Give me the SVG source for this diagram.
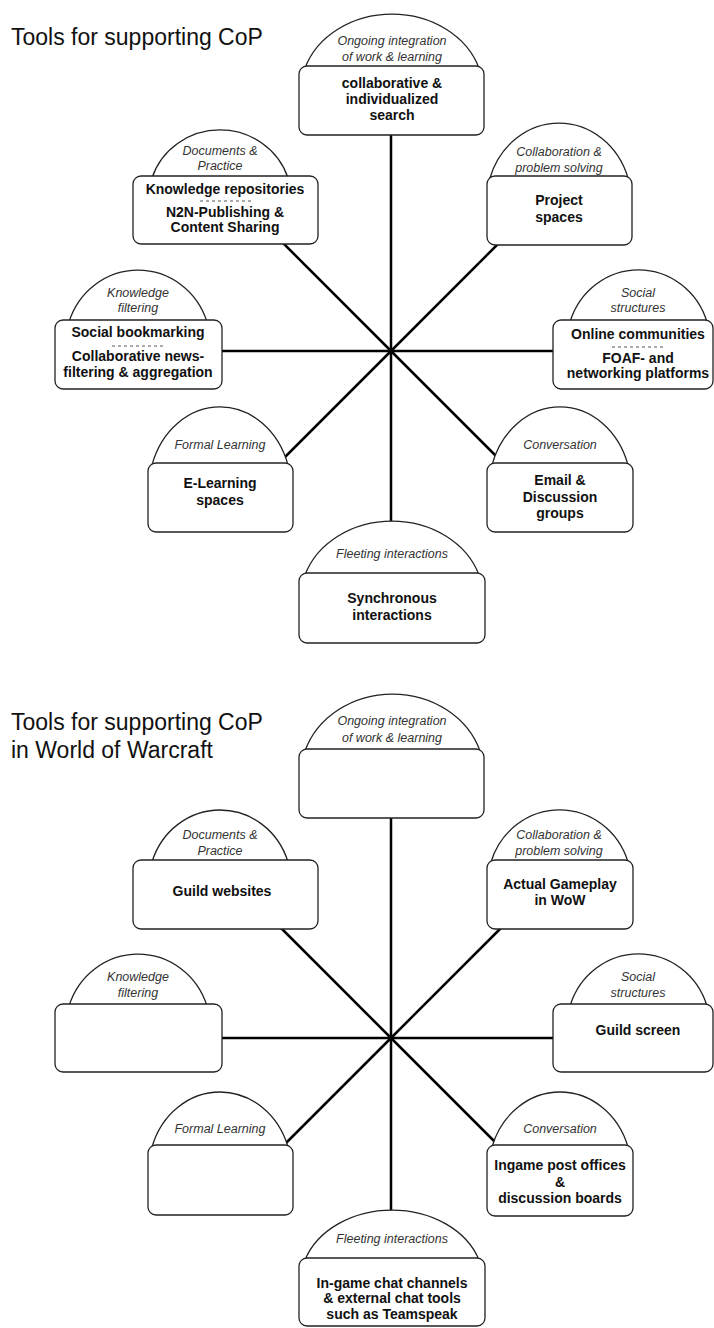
<svg xmlns="http://www.w3.org/2000/svg" width="714" height="1328" viewBox="0 0 714 1328">
<style>
.bg{fill:#fff}
.dome{fill:#fff;stroke:#222;stroke-width:1.3}
.box{fill:#fff;stroke:#222;stroke-width:1.3}
.conn{stroke:#000;stroke-width:2.5;fill:none}
.sep{stroke:#555;stroke-width:1;stroke-dasharray:3 3}
.title{font-family:"Liberation Sans",Arial,sans-serif;font-size:23px;fill:#111}
.dt{font-family:"Liberation Sans",Arial,sans-serif;font-size:12.5px;font-style:italic;fill:#333;text-anchor:middle}
.bt{font-family:"Liberation Sans",Arial,sans-serif;font-size:14px;font-weight:bold;fill:#111;text-anchor:middle}
</style>
<rect class="bg" x="0" y="0" width="714" height="1328"/>

<text class="title" x="11" y="45">Tools for supporting CoP</text>

<g id="connectors-top">
<line class="conn" x1="391" y1="130" x2="391" y2="580"/>
<line class="conn" x1="215" y1="351" x2="560" y2="351"/>
<line class="conn" x1="391" y1="351" x2="275" y2="235"/>
<line class="conn" x1="391" y1="351" x2="507" y2="235"/>
<line class="conn" x1="391" y1="351" x2="275" y2="467"/>
<line class="conn" x1="391" y1="351" x2="507" y2="467"/>
</g>

<g id="t-ongoing">
<path class="dome" d="M305,68 A91.4,77.7 0 0 1 479,68 Z"/>
<rect class="box" x="299" y="66" width="185" height="69" rx="8"/>
<text class="dt" x="392" y="45">Ongoing integration</text>
<text class="dt" x="392" y="61">of work &amp; learning</text>
<text class="bt" x="392" y="88">collaborative &amp;</text>
<text class="bt" x="392" y="104">individualized</text>
<text class="bt" x="392" y="120">search</text>
</g>

<g id="t-documents">
<path class="dome" d="M152,178 A71.4,69.1 0 0 1 288,178 Z"/>
<rect class="box" x="133" y="176" width="185" height="68" rx="8"/>
<text class="dt" x="220" y="155">Documents &amp;</text>
<text class="dt" x="220" y="170">Practice</text>
<text class="bt" x="225" y="194">Knowledge repositories</text>
<line class="sep" x1="200" y1="201" x2="252" y2="201"/>
<text class="bt" x="225" y="217">N2N-Publishing &amp;</text>
<text class="bt" x="225" y="232">Content Sharing</text>
</g>

<g id="t-collaboration">
<path class="dome" d="M490,178 A72.5,79.1 0 0 1 628,178 Z"/>
<rect class="box" x="487" y="176" width="145" height="69" rx="8"/>
<text class="dt" x="559" y="156">Collaboration &amp;</text>
<text class="dt" x="559" y="172">problem solving</text>
<text class="bt" x="559" y="205">Project</text>
<text class="bt" x="559" y="222">spaces</text>
</g>

<g id="t-knowledge">
<path class="dome" d="M69,322 A72.5,74.8 0 0 1 207,322 Z"/>
<rect class="box" x="55" y="320" width="167" height="69" rx="8"/>
<text class="dt" x="138" y="297">Knowledge</text>
<text class="dt" x="138" y="312">filtering</text>
<text class="bt" x="138" y="337">Social bookmarking</text>
<line class="sep" x1="112" y1="346" x2="166" y2="346"/>
<text class="bt" x="138" y="361">Collaborative news-</text>
<text class="bt" x="138" y="377">filtering &amp; aggregation</text>
</g>

<g id="t-social">
<path class="dome" d="M570,322 A71.9,74.8 0 0 1 707,322 Z"/>
<rect class="box" x="553" y="320" width="160" height="69" rx="8"/>
<text class="dt" x="638" y="297">Social</text>
<text class="dt" x="638" y="312">structures</text>
<text class="bt" x="638" y="339">Online communities</text>
<line class="sep" x1="612" y1="347" x2="666" y2="347"/>
<text class="bt" x="638" y="363">FOAF- and</text>
<text class="bt" x="638" y="378">networking platforms</text>
</g>

<g id="t-formal">
<path class="dome" d="M152,465 A71.4,83.5 0 0 1 288,465 Z"/>
<rect class="box" x="148" y="463" width="145" height="69" rx="8"/>
<text class="dt" x="220" y="449">Formal Learning</text>
<text class="bt" x="220" y="488">E-Learning</text>
<text class="bt" x="220" y="505">spaces</text>
</g>

<g id="t-conversation">
<path class="dome" d="M492,465 A71.4,83.5 0 0 1 628,465 Z"/>
<rect class="box" x="487" y="463" width="146" height="69" rx="8"/>
<text class="dt" x="560" y="449">Conversation</text>
<text class="bt" x="560" y="485">Email &amp;</text>
<text class="bt" x="560" y="502">Discussion</text>
<text class="bt" x="560" y="518">groups</text>
</g>

<g id="t-fleeting">
<path class="dome" d="M305,575 A91.4,77.7 0 0 1 479,575 Z"/>
<rect class="box" x="299" y="573" width="186" height="70" rx="8"/>
<text class="dt" x="392" y="558">Fleeting interactions</text>
<text class="bt" x="392" y="603">Synchronous</text>
<text class="bt" x="392" y="620">interactions</text>
</g>

<text class="title" x="11" y="730">Tools for supporting CoP</text>
<text class="title" x="11" y="758">in World of Warcraft</text>

<g id="connectors-bottom">
<line class="conn" x1="391" y1="812" x2="391" y2="1215"/>
<line class="conn" x1="215" y1="1038" x2="560" y2="1038"/>
<line class="conn" x1="391" y1="1038" x2="275" y2="922"/>
<line class="conn" x1="391" y1="1038" x2="507" y2="922"/>
<line class="conn" x1="391" y1="1038" x2="275" y2="1154"/>
<line class="conn" x1="391" y1="1038" x2="507" y2="1154"/>
</g>

<g id="b-ongoing">
<path class="dome" d="M305,751 A91.9,82 0 0 1 480,751 Z"/>
<rect class="box" x="299" y="749" width="185" height="69" rx="8"/>
<text class="dt" x="392" y="725">Ongoing integration</text>
<text class="dt" x="392" y="742">of work &amp; learning</text>
</g>

<g id="b-documents">
<path class="dome" d="M152,862 A71.4,74.8 0 0 1 288,862 Z"/>
<rect class="box" x="133" y="860" width="185" height="69" rx="8"/>
<text class="dt" x="220" y="839">Documents &amp;</text>
<text class="dt" x="220" y="855">Practice</text>
<text class="bt" x="222" y="896">Guild websites</text>
</g>

<g id="b-collaboration">
<path class="dome" d="M491,862 A71.9,74.8 0 0 1 628,862 Z"/>
<rect class="box" x="487" y="860" width="146" height="69" rx="8"/>
<text class="dt" x="559" y="839">Collaboration &amp;</text>
<text class="dt" x="559" y="855">problem solving</text>
<text class="bt" x="560" y="889">Actual Gameplay</text>
<text class="bt" x="560" y="905">in WoW</text>
</g>

<g id="b-knowledge">
<path class="dome" d="M69,1006 A72.5,74.8 0 0 1 207,1006 Z"/>
<rect class="box" x="55" y="1004" width="167" height="68" rx="8"/>
<text class="dt" x="138" y="981">Knowledge</text>
<text class="dt" x="138" y="997">filtering</text>
</g>

<g id="b-social">
<path class="dome" d="M570,1006 A71.9,74.8 0 0 1 707,1006 Z"/>
<rect class="box" x="553" y="1004" width="160" height="68" rx="8"/>
<text class="dt" x="638" y="981">Social</text>
<text class="dt" x="638" y="997">structures</text>
<text class="bt" x="638" y="1035">Guild screen</text>
</g>

<g id="b-formal">
<path class="dome" d="M152,1147 A71.4,79.1 0 0 1 288,1147 Z"/>
<rect class="box" x="148" y="1145" width="145" height="70" rx="8"/>
<text class="dt" x="220" y="1133">Formal Learning</text>
</g>

<g id="b-conversation">
<path class="dome" d="M492,1147 A71.4,79.1 0 0 1 628,1147 Z"/>
<rect class="box" x="487" y="1145" width="146" height="71" rx="8"/>
<text class="dt" x="560" y="1133">Conversation</text>
<text class="bt" x="560" y="1170">Ingame post offices</text>
<text class="bt" x="560" y="1187">&amp;</text>
<text class="bt" x="560" y="1203">discussion boards</text>
</g>

<g id="b-fleeting">
<path class="dome" d="M305,1260 A91.4,71.9 0 0 1 479,1260 Z"/>
<rect class="box" x="299" y="1258" width="186" height="68" rx="8"/>
<text class="dt" x="392" y="1243">Fleeting interactions</text>
<text class="bt" x="392" y="1288">In-game chat channels</text>
<text class="bt" x="392" y="1303">&amp; external chat tools</text>
<text class="bt" x="392" y="1319">such as Teamspeak</text>
</g>
</svg>
